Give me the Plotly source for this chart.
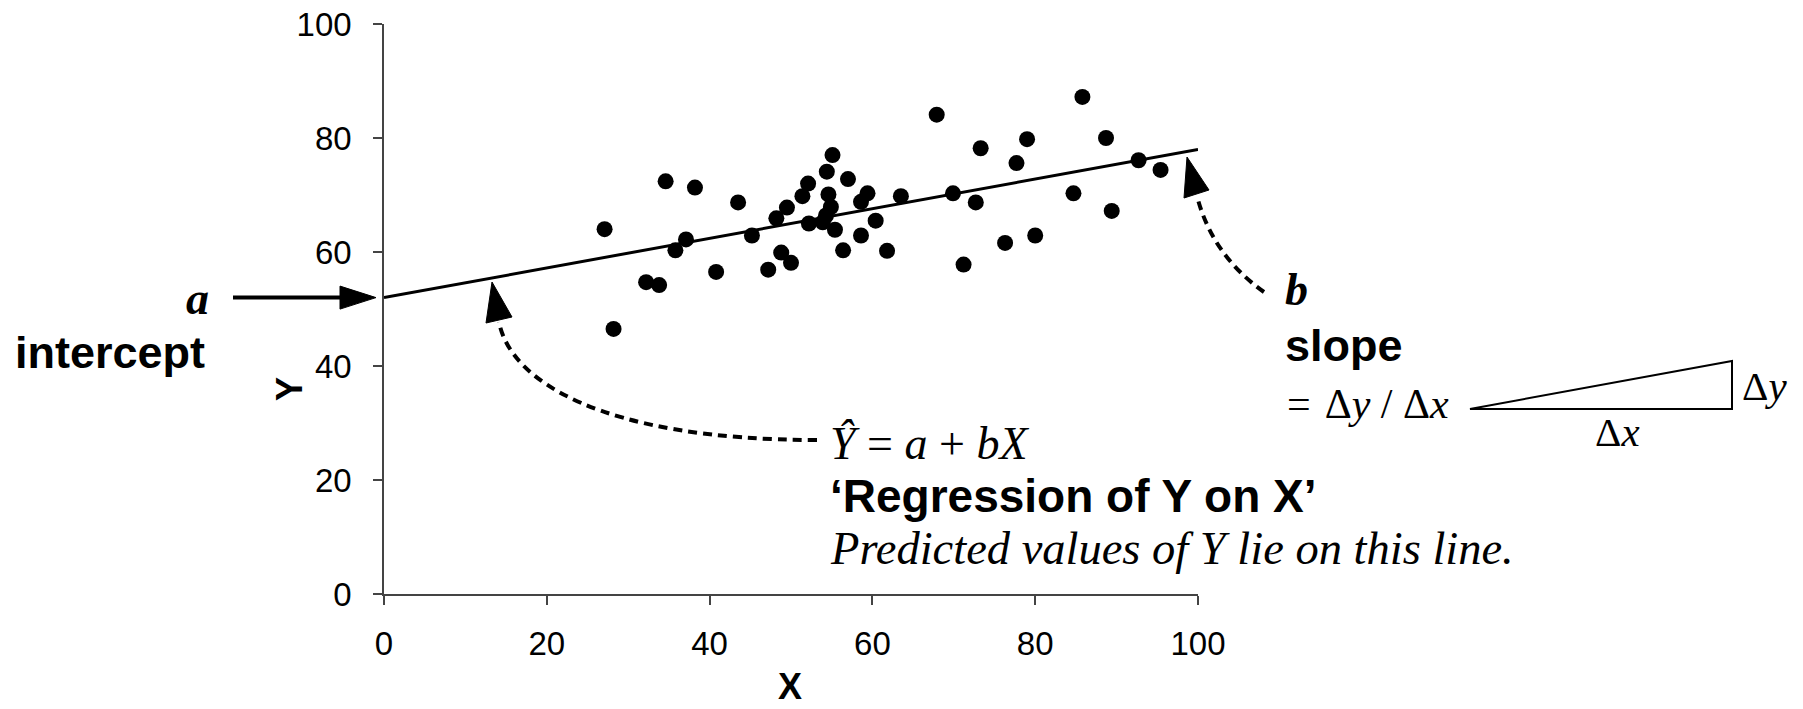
import plotly.graph_objects as go

# ---------------- data ----------------
x_values = [27.1, 28.2, 32.2, 33.8, 34.6, 35.8, 37.1, 38.2, 40.8, 43.5,
            45.2, 47.2, 48.2, 48.8, 49.5, 50.0, 51.4, 52.1, 52.2, 53.9,
            54.4, 54.6, 54.9, 55.1, 55.4, 54.3, 56.4, 57.0, 58.6, 58.6,
            59.4, 60.4, 61.8, 63.5, 67.9, 69.9, 71.2, 72.7, 73.3, 76.3,
            77.7, 79.0, 80.0, 84.7, 85.8, 88.7, 89.4, 92.7, 95.4]
y_values = [64.0, 46.5, 54.7, 54.2, 72.4, 60.3, 62.2, 71.3, 56.5, 68.7,
            62.9, 56.9, 65.9, 59.9, 67.8, 58.1, 69.8, 72.0, 65.0, 65.2,
            74.1, 70.1, 67.9, 77.0, 63.9, 66.4, 60.3, 72.8, 62.9, 68.8,
            70.3, 65.5, 60.2, 69.8, 84.1, 70.3, 57.8, 68.7, 78.2, 61.6,
            75.6, 79.8, 62.9, 70.3, 87.2, 80.0, 67.2, 76.1, 74.4]
intercept_a = 52.0
slope_b = 0.26
line_x = [0, 100]
tick_vals = [0, 20, 40, 60, 80, 100]
tick_text = ["0", "20", "40", "60", "80", "100"]

# ---------------- layout helpers (screen pixel -> paper) ----------------
W, H = 1803, 709
PL, PR, PT, PB = 384, 1198, 24, 594   # plot area edges on screen


def px(p):
    return (p - PL) / (PR - PL)


def py(p):
    return (PB - p) / (PB - PT)


def pt(x, y):
    return f"{px(x)},{py(y)}"


SANS = "Liberation Sans, Arial, sans-serif"
SERIF = "Liberation Serif, Times New Roman, serif"

fig = go.Figure()
fig.add_trace(go.Scatter(
    x=line_x, y=[intercept_a + slope_b * v for v in line_x],
    mode="lines", line=dict(color="black", width=3), hoverinfo="skip",
    showlegend=False))
fig.add_trace(go.Scatter(
    x=x_values, y=y_values, mode="markers",
    marker=dict(color="black", size=16), showlegend=False))

axis_common = dict(
    range=[0, 100], tickvals=tick_vals, ticktext=tick_text,
    showgrid=False, zeroline=False, showline=True, linecolor="#444",
    linewidth=1.5, ticks="outside", ticklen=9, tickwidth=1.5,
    tickcolor="#444", tickfont=dict(family=SANS, size=33, color="black"),
    ticklabeloverflow="allow", automargin=False,
)
fig.update_xaxes(**axis_common, ticklabelstandoff=11)
fig.update_yaxes(**axis_common, ticklabelstandoff=15)

shapes = []
# intercept arrow
ya = intercept_a / 100.0
hw = 11.5 / (PB - PT)
shapes.append(dict(type="line", xref="paper", yref="paper",
                   x0=px(233), x1=px(345), y0=ya, y1=ya,
                   line=dict(color="black", width=4)))
shapes.append(dict(type="path", xref="paper", yref="paper",
                   path=f"M{px(340)},{ya + hw} L{px(376)},{ya} L{px(340)},{ya - hw} Z",
                   fillcolor="black", line=dict(color="black", width=1)))

# Y-hat dashed curved arrow
shapes.append(dict(type="path", xref="paper", yref="paper",
                   path=f"M{pt(817,440)} C{pt(600,440)} {pt(510,380)} {pt(499,322)}",
                   line=dict(color="black", width=4, dash="9px,6px")))
shapes.append(dict(type="path", xref="paper", yref="paper",
                   path=f"M{pt(492,282)} L{pt(486,323)} L{pt(512,317)} Z",
                   fillcolor="black", line=dict(color="black", width=1)))
# slope dashed curved arrow
shapes.append(dict(type="path", xref="paper", yref="paper",
                   path=f"M{pt(1264,292)} Q{pt(1212,255)} {pt(1197,196)}",
                   line=dict(color="black", width=4, dash="9px,6px")))
shapes.append(dict(type="path", xref="paper", yref="paper",
                   path=f"M{pt(1187,157)} L{pt(1184,198)} L{pt(1209,190)} Z",
                   fillcolor="black", line=dict(color="black", width=1)))
# slope triangle
shapes.append(dict(type="path", xref="paper", yref="paper",
                   path=f"M{pt(1470,409)} L{pt(1732,409)} L{pt(1732,361)} Z",
                   line=dict(color="black", width=2)))

annotations = []


def txt(text, x, y, family, size, xanchor="left", angle=0):
    annotations.append(dict(
        text=text, xref="paper", yref="paper", x=px(x), y=py(y),
        xanchor=xanchor, yanchor="middle", showarrow=False, textangle=angle,
        font=dict(family=family, size=size, color="black")))


SP = "\u2004"
txt("<b><i>a</i></b>", 197, 298, SERIF, 46, xanchor="center")
txt("<b>intercept</b>", 13, 352, SANS, 45)
txt("<b>Y</b>", 289, 389, SANS, 36, xanchor="center", angle=-90)
txt("<b>X</b>", 790, 686, SANS, 36, xanchor="center")
txt("<i>Ŷ</i> = <i>a</i> + <i>bX</i>", 828, 443, SERIF, 46)
txt("<b>‘Regression of Y on X’</b>", 828, 496, SANS, 46)
txt("<i>Predicted values of Y lie on this line.</i>", 828, 548, SERIF, 46.5)
txt("<b><i>b</i></b>", 1283, 289, SERIF, 46)
txt("<b>slope</b>", 1283, 345, SANS, 45)
txt(f"={SP}Δ<i>y</i> / Δ<i>x</i>", 1285, 404, SERIF, 42)
txt("Δ<i>x</i>", 1617, 432, SERIF, 41, xanchor="center")
txt("Δ<i>y</i>", 1740, 386, SERIF, 41)

fig.update_layout(
    width=W, height=H, autosize=False,
    margin=dict(l=PL, r=W - PR, t=PT, b=H - PB, pad=0),
    plot_bgcolor="white", paper_bgcolor="white",
    shapes=shapes, annotations=annotations, showlegend=False,
)

fig.write_html(
    "out.html",
    config={"displayModeBar": False},
    post_script="document.body.style.margin='0';document.body.style.overflow='hidden';",
)
